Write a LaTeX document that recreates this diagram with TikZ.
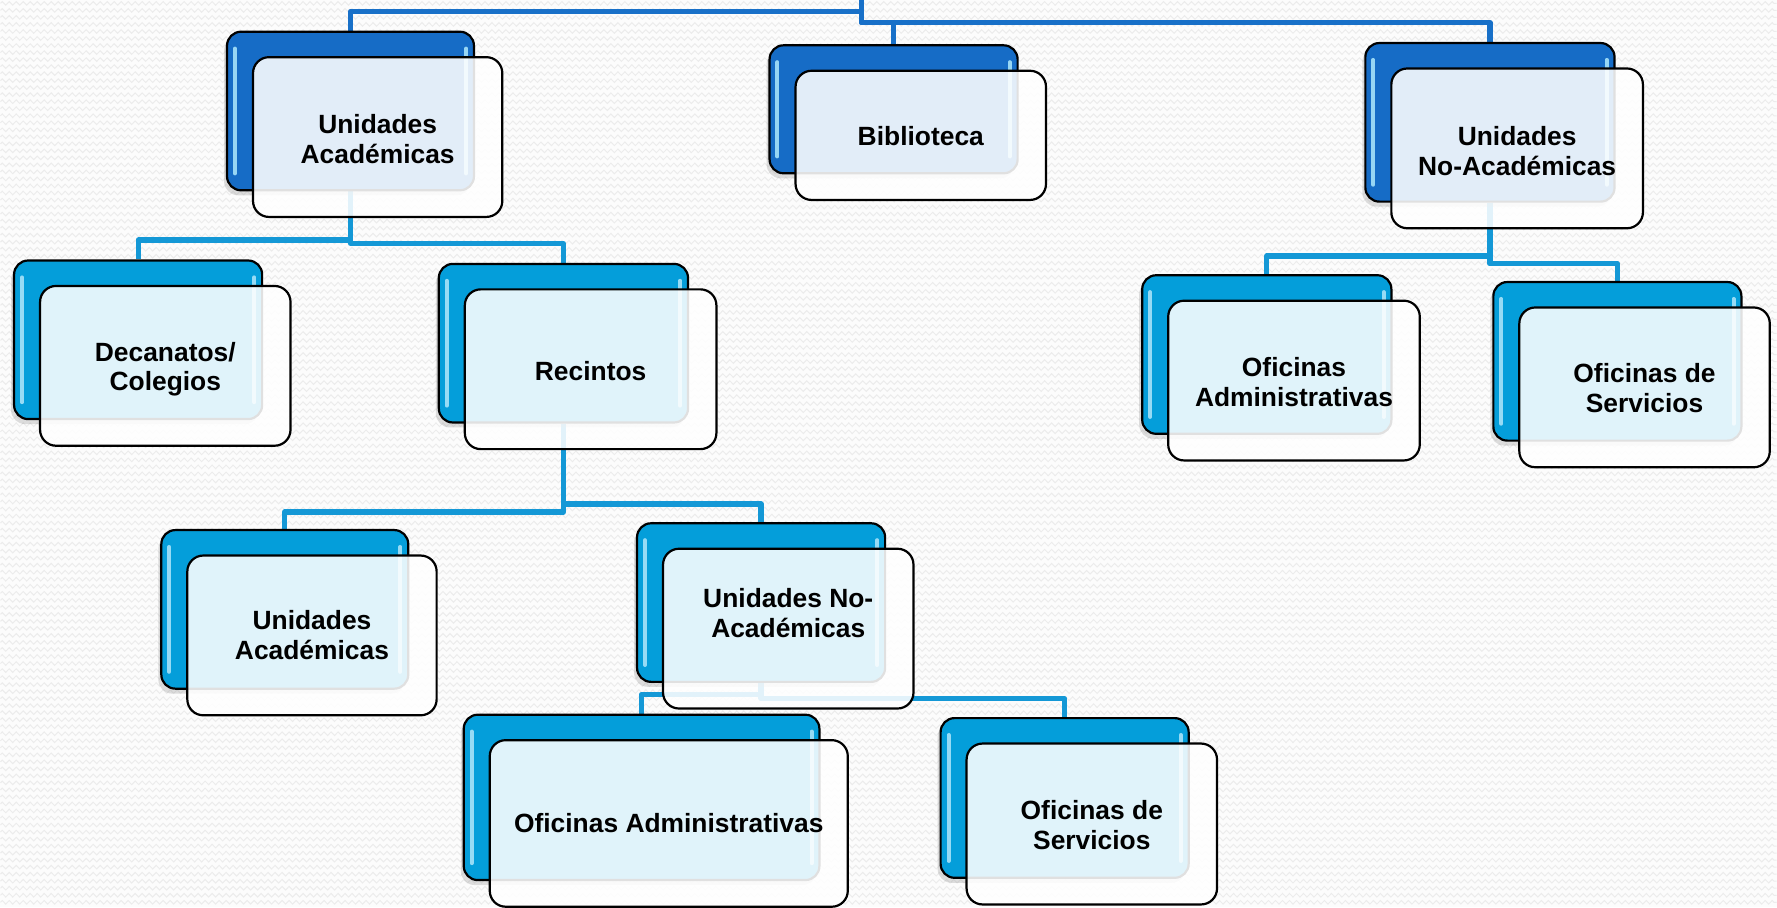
\documentclass[tikz,border=0pt]{standalone}
\usepackage{fontspec}
\setmainfont{Liberation Sans}
\usetikzlibrary{shadows,calc,decorations.pathmorphing}
\def\pxu{0.56667pt}
\definecolor{dkblue}{RGB}{22,108,198}
\definecolor{ltblue}{RGB}{4,158,218}
\definecolor{cdark}{RGB}{24,112,200}
\definecolor{clight}{RGB}{20,152,214}
\definecolor{bgc}{RGB}{252,252,252}
\definecolor{zigc}{RGB}{236,236,236}
\pgfdeclarelayer{bglayer}
\pgfsetlayers{bglayer,main}
\tikzset{
 backbox/.style={draw=black, line width=1.1pt, rounded corners=7pt,
   drop shadow={opacity=0.25, shadow xshift=-1.5pt, shadow yshift=-2.5pt}},
 frontbox/.style={draw=black, line width=1.1pt, rounded corners=8pt, fill=white,
   fill opacity=0.88, inner sep=0pt},
 boxtext/.style={font=\bfseries\fontsize{13.2}{15}\selectfont, align=center, inner sep=0pt},
 hl/.style={draw=cyan!35!white, line width=2pt, line cap=round, opacity=0.9},
 conn0/.style={draw=cdark, line width=2.6pt, line join=round},
 conn1/.style={draw=clight, line width=2.6pt, line join=round},
 zig/.style={draw=zigc, line width=0.5pt, decorate,
   decoration={zigzag, segment length=3.5pt, amplitude=0.9pt}},
}
% #1 name, #2 cx, #3 cy, #4 w, #5 h, #6 colour, #7 text, #8 text offset
\newcommand\orgpair[8]{%
  \node[backbox, fill=#6, minimum width=#4*\pxu, minimum height=#5*\pxu] (#1) at (#2,#3) {};
  \draw[hl] ([xshift=4.5pt,yshift=-9pt]#1.north west) -- ([xshift=4.5pt,yshift=9pt]#1.south west);
  \draw[hl] ([xshift=-4.5pt,yshift=-9pt]#1.north east) -- ([xshift=-4.5pt,yshift=9pt]#1.south east);
  \node[frontbox, minimum width=#4*\pxu+1.2pt, minimum height=#5*\pxu+0.6pt] (#1f) at ($(#1)+(24,23)$) {};
  \node[boxtext] (#1t) at ($(#1f)+(0,#8)$) {#7};
}
\begin{document}
\begin{tikzpicture}[x=0.56667pt, y=-0.56667pt]
\begin{pgfonlayer}{bglayer}
  \fill[bgc] (0,0) rectangle (1568,801);
  \foreach \yy in {3,9.2,...,801} {
    \draw[zig] (0,\yy) -- (1568,\yy);
  }
\end{pgfonlayer}
\useasboundingbox (0,0) rectangle (1568,801);

\orgpair{ua1}{309}{98}{218}{140}{dkblue}{Unidades\\Académicas}{2}
\orgpair{bib}{788.5}{96.5}{219}{113}{dkblue}{Biblioteca}{1}
\orgpair{una1}{1315}{108}{220}{140}{dkblue}{Unidades\\No-Académicas}{2}
\orgpair{dec}{121.5}{300}{219}{140}{ltblue}{Decanatos/\\Colegios}{3}
\orgpair{rec}{497}{303}{220}{140}{ltblue}{Recintos}{2}
\orgpair{ua2}{251}{538}{218}{140}{ltblue}{Unidades\\Académicas}{0}
\orgpair{una2}{671.5}{532}{219}{140}{ltblue}{Unidades No-\\Académicas}{-14}
\orgpair{oa2}{566}{704}{314}{146}{ltblue}{Oficinas Administrativas}{0}
\orgpair{os2}{939.5}{704.5}{219}{141}{ltblue}{Oficinas de\\Servicios}{1}
\orgpair{oa1}{1118}{313}{220}{140}{ltblue}{Oficinas\\Administrativas}{1}
\orgpair{os1}{1427.5}{319}{219}{140}{ltblue}{Oficinas de\\Servicios}{1}

\begin{pgfonlayer}{bglayer}
  \coordinate (root) at (760,0);
  \draw[conn0] (root) -- ++(0,10) -| (ua1.north);
  \draw[conn0] (root) -- ++(0,20) -| (bib.north);
  \draw[conn0] (root) -- ++(0,20) -| (una1.north);
  \draw[conn1] (ua1.south) -- ++(0,43) -| (dec.north);
  \draw[conn1] (ua1.south) -- ++(0,46) -| (rec.north);
  \draw[conn1] (rec.south) -- ++(0,78) -| (ua2.north);
  \draw[conn1] (rec.south) -- ++(0,71) -| (una2.north);
  \draw[conn1] (una2.south) -- ++(0,10) -| (oa2.north);
  \draw[conn1] (una2.south) -- ++(0,14) -| (os2.north);
  \draw[conn1] (una1.south) -- ++(0,47) -| (oa1.north);
  \draw[conn1] (una1.south) -- ++(0,54) -| (os1.north);
\end{pgfonlayer}
\end{tikzpicture}
\end{document}
